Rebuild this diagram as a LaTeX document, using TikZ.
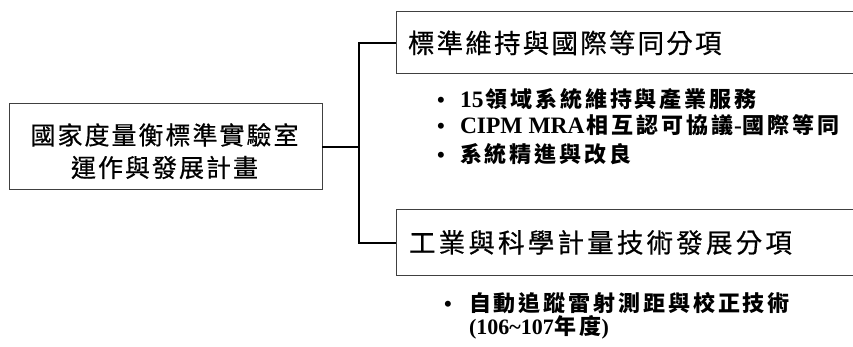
\documentclass[tikz,border=0pt]{standalone}
\usepackage{fontspec}
\setmainfont{Liberation Serif}
\newfontfamily\cjk{Noto Sans CJK TC}
\newfontfamily\cjkm{Noto Sans CJK TC}[FakeBold=0.6]
\makeatletter
% #1 font size, #2 gap between characters, #3 CJK characters
\newcommand\cjksp[3]{{\cjk\fontsize{#1}{#1}\selectfont\def\trk@gap{#2}\let\trk@sep\relax\@tfor\trk@c:=#3\do{\trk@sep\trk@c\def\trk@sep{\hspace{\trk@gap}}}}}
\newcommand\cjkmsp[3]{{\cjkm\fontsize{#1}{#1}\selectfont\def\trk@gap{#2}\let\trk@sep\relax\@tfor\trk@c:=#3\do{\trk@sep\trk@c\def\trk@sep{\hspace{\trk@gap}}}}}
\makeatother
\begin{document}
\begin{tikzpicture}[x=1pt,y=-1pt,
  frame/.style={draw=black!75, line width=1pt, inner sep=0pt, outer sep=0pt},
  openframe/.style={inner sep=0pt, outer sep=0pt},
  conn/.style={line width=2pt, draw=black},
  txt/.style={inner sep=0pt, outer sep=0pt, anchor=base west},
  ctxt/.style={inner sep=0pt, outer sep=0pt, anchor=base},
  lat/.style={font=\fontsize{22}{22}\selectfont\bfseries},
  latb/.style={font=\fontsize{23.5}{23.5}\selectfont\bfseries}]
\useasboundingbox (0,0) rectangle (853,347);
% main box
\node[frame, minimum width=313pt, minimum height=86pt] (main) at (165.5,147) {};
\node[ctxt] (m1) at (164.5,144.5) {\cjkmsp{25pt}{2pt}{國家度量衡標準實驗室}};
\node[ctxt] (m2) at (164.5,177) {\cjkmsp{25pt}{2pt}{運作與發展計畫}};
% box 1
\node[openframe, minimum width=457pt, minimum height=62pt] (b1) at (624.5,43) {};
\draw[draw=black!75, line width=1pt] (b1.north east) -- (b1.north west) -- (b1.south west) -- (b1.south east);
\node[txt] (t1) at (408,53) {\cjkmsp{26.5pt}{2.2pt}{標準維持與國際等同分項}};
% box 2
\node[openframe, minimum width=457pt, minimum height=65pt] (b2) at (624.5,242.5) {};
\draw[draw=black!75, line width=1pt] (b2.north east) -- (b2.north west) -- (b2.south west) -- (b2.south east);
\node[txt] (t2) at (409,252.5) {\cjkmsp{26.5pt}{3.2pt}{工業與科學計量技術發展分項}};
% connectors
\coordinate (j1) at (359,43);
\coordinate (j2) at (359,242.5);
\draw[conn] (b1.west) -- (j1) -- (j2) -- (b2.west);
\draw[conn] (main.east) -- (main.east -| j1);
% bullets group 1
\node[txt, lat] (d1) at (437,107.4) {•};
\node[txt, latb] (l1) at (460,107.4) {15\hspace{2pt}\cjksp{22pt}{2.9pt}{領域系統維持與產業服務}};
\node[txt, lat] (d2) at (437,133.9) {•};
\node[txt, latb] (l2) at (460,133.9) {CIPM MRA\hspace{2pt}\cjksp{22pt}{2.9pt}{相互認可協議}\hspace{1pt}-\hspace{1pt}\cjksp{22pt}{2.9pt}{國際等同}};
\node[txt, lat] (d3) at (437,162.4) {•};
\node[txt, lat] (l3) at (460,162.4) {\cjksp{22pt}{2.9pt}{系統精進與改良}};
% bullets group 2
\node[txt, lat] (d4) at (444,311) {•};
\node[txt, lat] (l4) at (469,311) {\cjksp{22pt}{2.9pt}{自動追蹤雷射測距與校正技術}};
\node[txt, lat] (l5) at (469,334.5) {(106\textasciitilde 107\hspace{1pt}\cjksp{22pt}{2.9pt}{年度})};
\end{tikzpicture}
\end{document}
